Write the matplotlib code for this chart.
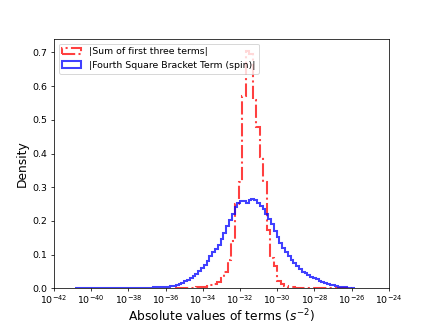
import numpy as np
import matplotlib
matplotlib.use('Agg')
import matplotlib.pyplot as plt

# bin edges in log10 space (histograms were built on log10 of the values)
red_log_lo, red_log_hi, red_nbins = -35.5, -26.0, 50
blue_log_lo, blue_log_hi, blue_nbins = -40.87, -25.82, 100

# densities, one per bin
red_density = [
    0.0005, 0.0005, 0.001, 0.001, 0.0015, 0.002, 0.003, 0.004, 0.005, 0.007,
    0.010, 0.014, 0.020, 0.030, 0.050, 0.085, 0.140, 0.250, 0.315, 0.570,
    0.705, 0.695, 0.560, 0.480, 0.390, 0.315, 0.173, 0.090, 0.065, 0.022,
    0.012, 0.006, 0.004, 0.003, 0.002, 0.002, 0.0015, 0.0015, 0.001, 0.001,
    0.001, 0.0008, 0.0008, 0.0006, 0.0005, 0.0005, 0.0004, 0.0004, 0.0003, 0.0003,
]

blue_density = [
    0.0002, 0.0002, 0.0002, 0.0003, 0.0003, 0.0003, 0.0003, 0.0004, 0.0004, 0.0004,
    0.0005, 0.0005, 0.0005, 0.0006, 0.0006, 0.0007, 0.0007, 0.0008, 0.0009, 0.001,
    0.001, 0.0012, 0.0013, 0.0015, 0.0017, 0.0019, 0.0021, 0.0024, 0.0027, 0.003,
    0.003, 0.004, 0.004, 0.005, 0.007, 0.008, 0.010, 0.013, 0.017, 0.022,
    0.026, 0.031, 0.037, 0.044, 0.052, 0.060, 0.070, 0.082, 0.096, 0.108,
    0.118, 0.130, 0.145, 0.163, 0.185, 0.203, 0.222, 0.240, 0.252, 0.258,
    0.258, 0.252, 0.262, 0.265, 0.262, 0.252, 0.243, 0.235, 0.222, 0.205,
    0.190, 0.170, 0.152, 0.136, 0.121, 0.108, 0.096, 0.085, 0.074, 0.065,
    0.058, 0.050, 0.045, 0.039, 0.034, 0.031, 0.027, 0.023, 0.019, 0.016,
    0.013, 0.011, 0.009, 0.007, 0.005, 0.004, 0.003, 0.002, 0.0015, 0.001,
]

red_edges = np.logspace(red_log_lo, red_log_hi, red_nbins + 1)
blue_edges = np.logspace(blue_log_lo, blue_log_hi, blue_nbins + 1)
red_centers = np.sqrt(red_edges[:-1] * red_edges[1:])
blue_centers = np.sqrt(blue_edges[:-1] * blue_edges[1:])

fig, ax = plt.subplots(figsize=(6.4, 4.8), dpi=67.5)

ax.hist(red_centers, bins=red_edges, weights=red_density, histtype='step',
        color='red', alpha=0.75, linewidth=2.2, linestyle='-.',
        label='|Sum of first three terms|')
ax.hist(blue_centers, bins=blue_edges, weights=blue_density, histtype='step',
        color='blue', alpha=0.75, linewidth=2.2,
        label='|Fourth Square Bracket Term (spin)|')

ax.set_xscale('log')
ax.set_xlim(1e-42, 1e-24)
ax.set_xticks([10.0 ** e for e in range(-42, -23, 2)])
ax.minorticks_off()
ax.tick_params(axis='x', pad=2)
ax.set_xlabel('Absolute values of terms ($s^{-2}$)', fontsize=13, labelpad=1)
ax.set_ylabel('Density', fontsize=13)
ax.legend(loc='upper left', fontsize=10)

plt.savefig('out.png')
